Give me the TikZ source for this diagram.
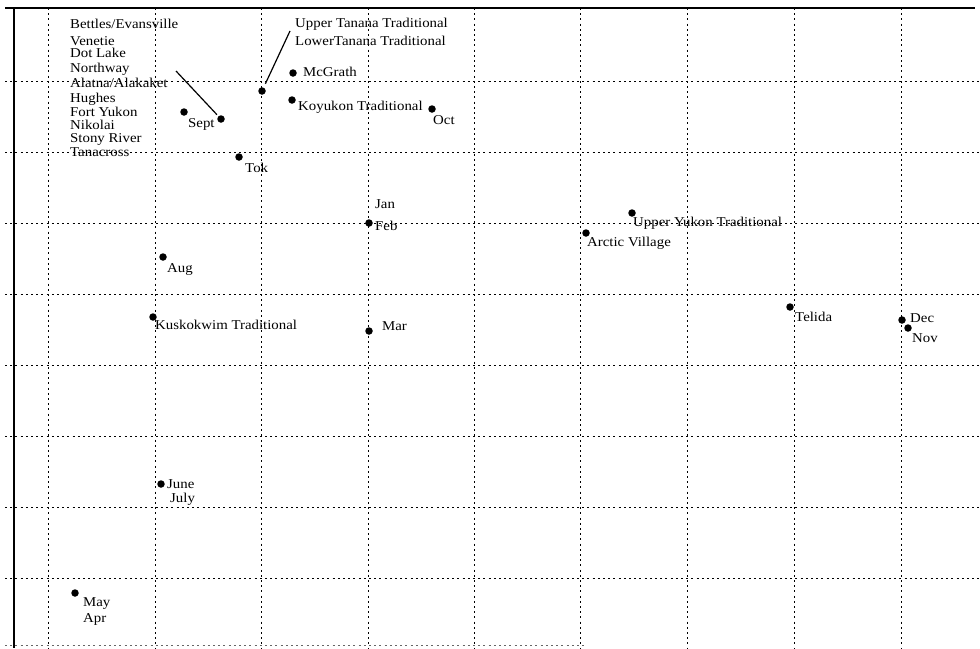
\documentclass[tikz,border=0pt]{standalone}
\usepackage{fontspec}
\setmainfont[FakeStretch=1.1]{Liberation Serif}
\begin{document}
\begin{tikzpicture}[x=1pt,y=-1pt,
  gridline/.style={line width=1pt, dash pattern=on 2pt off 3.2pt},
  frameline/.style={line width=1.6pt},
  dot/.style={circle, fill=black, inner sep=0pt, minimum size=7.5pt},
  lbl/.style={anchor=west, inner sep=0pt, font=\fontsize{13.5}{14}\selectfont, text height=9pt, text depth=2.5pt},
  leader/.style={line width=1.2pt}]
\useasboundingbox (0,0) rectangle (980,648);
% grid
\foreach \x in {48,155,261,368,474,580,687,794,901}
  \draw[gridline] (\x,8) -- (\x,648);
\foreach \y in {81,152,223,294,365,436,507,578}
  \draw[gridline] (5,\y) -- (980,\y);
\draw[gridline, line width=0.5pt, black!60] (5,645) -- (585,645);
% frame
\draw[frameline] (5,8) -- (975,8);
\draw[frameline] (14,8) -- (14,648);
% village list
\node[lbl] (v1) at (70,25) {Bettles/Evansville};
\node[lbl] (v2) at (70,42) {Venetie};
\node[lbl] (v3) at (70,54) {Dot Lake};
\node[lbl] (v4) at (70,69) {Northway};
\node[lbl] (v5) at (70,84) {Alatna/Alakaket};
\node[lbl] (v6) at (70,99) {Hughes};
\node[lbl] (v7) at (70,113) {Fort Yukon};
\node[lbl] (v8) at (70,126) {Nikolai};
\node[lbl] (v9) at (70,139) {Stony River};
\node[lbl] (v10) at (70,153) {Tanacross};
% dots
\node[dot] (sept) at (184,112) {};
\node[dot] (vill) at (221,119) {};
\node[dot] (tan) at (262,91) {};
\node[dot] (mcg) at (293,73) {};
\node[dot] (koy) at (292,100) {};
\node[dot] (oct) at (432,109) {};
\node[dot] (tok) at (239,157) {};
\node[dot] (jan) at (369,223) {};
\node[dot] (arc) at (586,233) {};
\node[dot] (uyk) at (632,213) {};
\node[dot] (aug) at (163,257) {};
\node[dot] (kus) at (153,317) {};
\node[dot] (mar) at (369,331) {};
\node[dot] (tel) at (790,307) {};
\node[dot] (dec) at (902,320) {};
\node[dot] (nov) at (908,328) {};
\node[dot] (jun) at (161,484) {};
\node[dot] (may) at (75,593) {};
% labels
\node[lbl] (lsept) at (188,124) {Sept};
\node[lbl] (lut) at (295,24) {Upper Tanana Traditional};
\node[lbl] (llt) at (295,42) {LowerTanana Traditional};
\node[lbl] (lmcg) at (303,73) {McGrath};
\node[lbl] (lkoy) at (298,107) {Koyukon Traditional};
\node[lbl] (loct) at (433,121) {Oct};
\node[lbl] (ltok) at (245,169) {Tok};
\node[lbl] (ljan) at (375,205) {Jan};
\node[lbl] (lfeb) at (375,227) {Feb};
\node[lbl] (larc) at (587,243) {Arctic Village};
\node[lbl] (luyk) at (633,223) {Upper Yukon Traditional};
\node[lbl] (laug) at (167,269) {Aug};
\node[lbl] (lkus) at (155,326) {Kuskokwim Traditional};
\node[lbl] (lmar) at (382,327) {Mar};
\node[lbl] (ltel) at (795,318) {Telida};
\node[lbl] (ldec) at (910,319) {Dec};
\node[lbl] (lnov) at (912,339) {Nov};
\node[lbl] (ljun) at (167,485) {June};
\node[lbl] (ljul) at (170,499) {July};
\node[lbl] (lmay) at (83,603) {May};
\node[lbl] (lapr) at (83,619) {Apr};
% leader lines
\coordinate (lvend) at (176,71);
\coordinate (ltend) at (290,31);
\draw[leader, shorten >=2pt] (lvend) -- (vill);
\draw[leader, shorten <=4pt] (tan) -- (ltend);
\end{tikzpicture}
\end{document}
